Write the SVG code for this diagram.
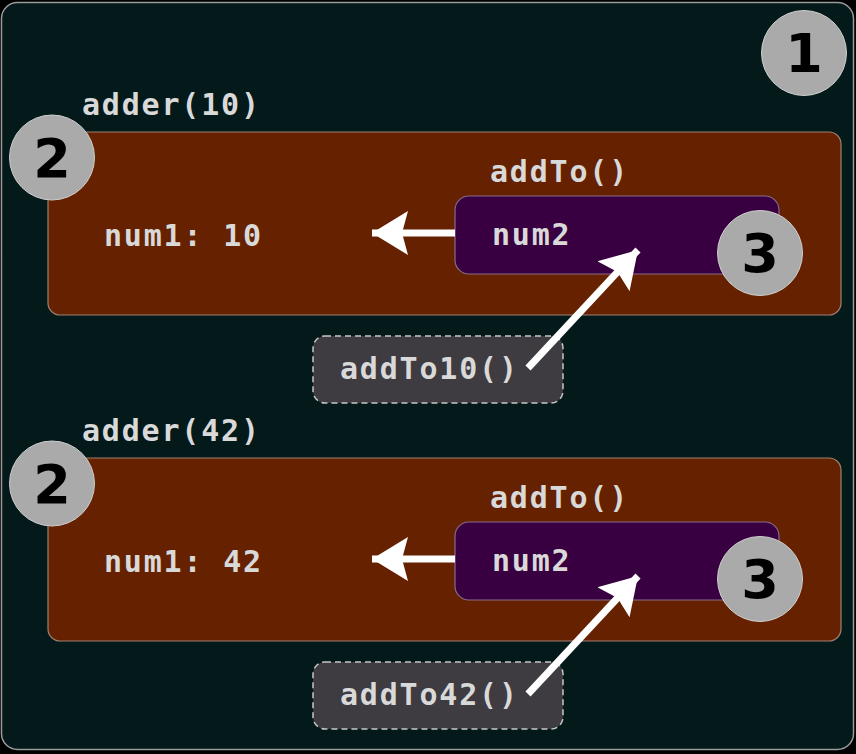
<svg xmlns="http://www.w3.org/2000/svg" width="856" height="754" viewBox="0 0 856 754">
<defs>
<style>
.mono{font-family:"DejaVu Sans Mono","Liberation Mono",monospace;font-weight:bold;font-size:30px;letter-spacing:1.8px;fill:#d9d9d9}
.num{font-family:"DejaVu Sans","Liberation Sans",sans-serif;font-weight:bold;font-size:54px;fill:#000;text-anchor:middle}
.badge{fill:#aaaaaa;stroke:#cfcfcf;stroke-width:1}
.outer{fill:#03191a;stroke:#9a9a9a;stroke-width:1.5}
.scope{fill:#662200;stroke:#a08070;stroke-width:1.2}
.inner{fill:#380040;stroke:#8a6a8a;stroke-width:1.2}
.ref{fill:#3e3c40;stroke:#c8c8c8;stroke-width:1.5;stroke-dasharray:6 4}
.conn{stroke:#ffffff;stroke-width:7;fill:none}
</style>
<marker id="ah" markerUnits="userSpaceOnUse" markerWidth="44" markerHeight="46" refX="36" refY="22" orient="auto" viewBox="0 0 44 44">
<polygon points="0,0 36,22 0,44 6,22" fill="#ffffff"/>
</marker>
</defs>
<rect x="0" y="0" width="856" height="754" fill="#000"/>
<g id="global">
<rect class="outer" x="1.5" y="2.5" width="852" height="747" rx="16"/>
<circle class="badge" cx="804" cy="53" r="42.5"/>
<text class="num" x="804" y="72">1</text>
</g>
<g id="adder10">
<text class="mono" x="82" y="115">adder(10)</text>
<rect class="scope" x="48" y="132" width="793" height="183" rx="12"/>
<circle class="badge" cx="52" cy="157.5" r="42.5"/>
<text class="num" x="52" y="177">2</text>
<text class="mono" x="104" y="246">num1: 10</text>
</g>
<g id="addTo1">
<text class="mono" x="490" y="182">addTo()</text>
<rect class="inner" x="455" y="196" width="324" height="78" rx="14"/>
<text class="mono" x="492" y="245">num2</text>
<circle class="badge" cx="760" cy="253" r="42.5"/>
<text class="num" x="760" y="272">3</text>
</g>
<g id="addTo10">
<rect class="ref" x="313" y="336" width="250" height="67" rx="12"/>
<text class="mono" x="340" y="379">addTo10()</text>
</g>
<g id="adder42">
<text class="mono" x="82" y="441">adder(42)</text>
<rect class="scope" x="48" y="458" width="793" height="183" rx="12"/>
<circle class="badge" cx="52" cy="483.5" r="42.5"/>
<text class="num" x="52" y="503">2</text>
<text class="mono" x="104" y="572">num1: 42</text>
</g>
<g id="addTo2">
<text class="mono" x="490" y="508">addTo()</text>
<rect class="inner" x="455" y="522" width="324" height="78" rx="14"/>
<text class="mono" x="492" y="571">num2</text>
<circle class="badge" cx="760" cy="579" r="42.5"/>
<text class="num" x="760" y="598">3</text>
</g>
<g id="addTo42">
<rect class="ref" x="313" y="662" width="250" height="67" rx="12"/>
<text class="mono" x="340" y="705">addTo42()</text>
</g>
<g id="connectors">
<line class="conn" x1="455" y1="233" x2="372" y2="233" marker-end="url(#ah)"/>
<line class="conn" x1="528" y1="368" x2="638" y2="250" marker-end="url(#ah)"/>
<line class="conn" x1="455" y1="559" x2="372" y2="559" marker-end="url(#ah)"/>
<line class="conn" x1="528" y1="694" x2="638" y2="576" marker-end="url(#ah)"/>
</g>
</svg>
